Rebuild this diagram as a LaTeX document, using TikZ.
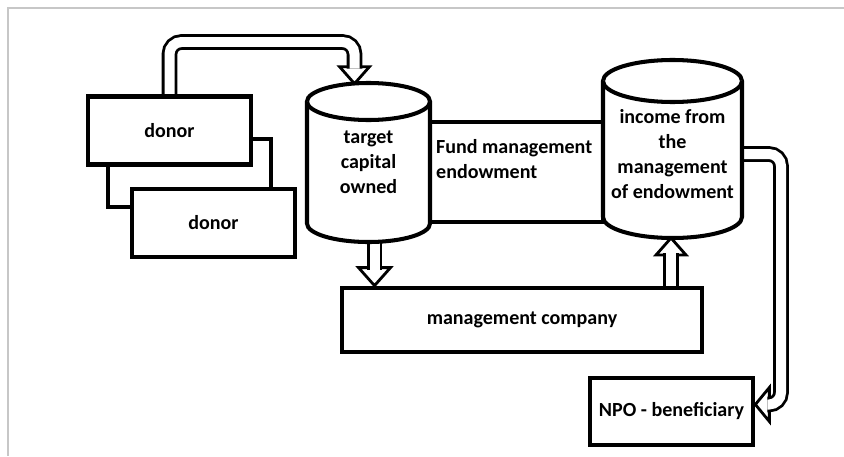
\documentclass[tikz,border=0pt]{standalone}
\usepackage{fontspec}
\setmainfont{Carlito}
\usetikzlibrary{calc,backgrounds}

\newcommand{\tank}[4]{% centre, half width, cap radius, half height (px)
	\filldraw[tankline] ($(#1)+(-#2,-#4)$) -- ($(#1)+(-#2,#4)$)
		arc[start angle=180,end angle=360,x radius=#2*0.02cm,y radius=#3*0.02cm]
		-- ($(#1)+(#2,-#4)$)
		arc[start angle=0,end angle=180,x radius=#2*0.02cm,y radius=#3*0.02cm] -- cycle;
	\draw[tankline] ($(#1)+(-#2,-#4)$) arc[start angle=180,end angle=360,x radius=#2*0.02cm,y radius=#3*0.02cm];
}

\begin{document}
\begin{tikzpicture}[x=0.02cm,y=-0.02cm,
	every node/.style={font=\fontsize{11.4}{14.2}\selectfont\bfseries},
	box/.style={draw,line width=2.7pt,fill=white,minimum width=3.26cm,minimum height=1.36cm},
	tankline/.style={line width=2.3pt,fill=white},
	tanktext/.style={align=center,inner sep=0pt},
	pipe/.style={draw,line width=1.6pt,double=white,double distance=0.2cm,rounded corners=0.24cm},
	hollowhead/.style={draw,line width=1.6pt,fill=white,line join=miter}]
	\useasboundingbox (0,0) rectangle (844,456);
	\draw[black!22,line width=1.1pt] (844,8) -- (8,8) -- (8,456); %frame
	% donors
	\node[box] (back) at (189.5,173) {};
	\node[box] (donor1) at (169.5,130.5) {donor};
	\node[box] (donor2) at (213.5,223) {donor};
	% fund and tanks
	\node[draw,line width=2.5pt,fill=white,minimum width=3.46cm,minimum height=2cm] (fund) at (516.5,172) {};
	\node[anchor=north west,align=left,inner sep=0pt] (fundtext) at ($(fund.north west)+(8,19)$) {Fund management\\endowment};
	\coordinate (c1) at (368.5,162.5);
	\coordinate (c2) at (672.5,149);
	\tank{c1}{61.5}{18.5}{61}
	\tank{c2}{69.5}{21}{68}
	\node[tanktext,minimum width=2.46cm,minimum height=3.18cm] (cyl1) at (c1) {target\\capital\\owned};
	\node[tanktext,minimum width=2.78cm,minimum height=3.56cm] (cyl2) at ($(c2)+(0,5)$) {income from\\the\\management\\of endowment};
	\node[box,minimum width=7.2cm,minimum height=1.28cm] (mgmt) at (522,320) {management company};
	\node[box,minimum height=1.34cm] (npo) at (671.5,411.5) {NPO - beneficiary};
	% arrows
	\begin{scope}[on background layer]
		\coordinate (t0) at ($(donor1.north)+(0,8)$); %donor -> capital
		\coordinate (t1) at ($(cyl1.north)+(-14,1)$);
		\draw[hollowhead] ($(t1)+(-15,-17)$) -- (t1) -- ($(t1)+(15,-17)$) -- cycle;
		\draw[pipe] (t0) -- (t0 |- 0,42) -- (t1 |- 0,42) -- ($(t1)+(0,-15)$);
		\coordinate (d0) at ($(cyl1.south)+(6,-8)$); %capital -> company
		\coordinate (d1) at (d0 |- mgmt.north);
		\draw[hollowhead] ($(d1)+(-16,-18)$) -- (d1) -- ($(d1)+(16,-18)$) -- cycle;
		\draw[pipe] (d0) -- ($(d1)+(0,-16)$);
		\coordinate (u0) at ($(mgmt.north)+(149,8)$); %company -> income
		\coordinate (u1) at ($(c2)+(-1.5,89)$);
		\draw[hollowhead] ($(u1)+(-15,17)$) -- (u1) -- ($(u1)+(15,17)$) -- cycle;
		\draw[pipe] (u0) -- ($(u1)+(0,15)$);
		\coordinate (r0) at ($(c2)+(60,5)$); %income -> NPO
		\coordinate (r1) at ($(npo.east)+(0,-7)$);
		\draw[hollowhead] ($(r1)+(14,-17)$) -- (r1) -- ($(r1)+(14,17)$) -- cycle;
		\draw[pipe] (r0) -- (r0 -| 781,0) -- (781,0 |- r1) -- ($(r1)+(12,0)$);
	\end{scope}
\end{tikzpicture}
\end{document}
